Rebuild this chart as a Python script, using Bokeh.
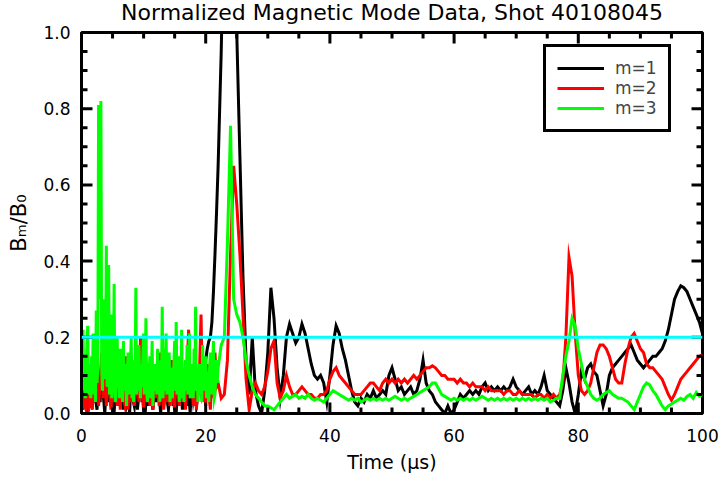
import numpy as np
from bokeh.plotting import figure
from bokeh.models import Range1d, Span, Legend, LegendItem, Label, FixedTicker, NumeralTickFormatter
from bokeh.embed import file_html
from bokeh.resources import INLINE

# Sampling grids: fine through the noisy early window, coarser afterwards
t_fine = np.arange(0.0, 22.0, 0.125)
t_early = np.arange(0.0, 22.0, 0.25)
t_late = np.arange(22.0, 100.001, 0.5)

# m=1 amplitude (normalized)
m1_early = [
    0.05, 0.01, 0.08, 0.03, 0.00, 0.06, 0.10, 0.02, 0.07, 0.04, 0.01, 0.09, 0.03, 0.12, 0.05, 0.00, 0.07, 0.03, 0.10, 0.02,
    0.06, 0.00, 0.08, 0.04, 0.11, 0.02, 0.05, 0.01, 0.09, 0.03, 0.06, 0.00, 0.10, 0.04, 0.02, 0.08, 0.01, 0.05, 0.12, 0.03,
    0.07, 0.00, 0.06, 0.02, 0.09, 0.04, 0.01, 0.08, 0.03, 0.11, 0.05, 0.00, 0.07, 0.02, 0.09, 0.04, 0.01, 0.06, 0.10, 0.02,
    0.05, 0.00, 0.08, 0.03, 0.07, 0.01, 0.05, 0.10, 0.02, 0.06, 0.00, 0.09, 0.04, 0.07, 0.02, 0.05, 0.09, 0.06, 0.11, 0.10,
    0.14, 0.17, 0.19, 0.20, 0.24, 0.32, 0.42, 0.53,
]
m1_late = [
    0.65, 0.95, 1.35, 1.60, 1.60, 1.35, 1.00, 0.68, 0.36, 0.14,
    0.05, 0.20, 0.06, 0.02, 0.00, 0.06, 0.16, 0.33, 0.25, 0.12,
    0.04, 0.10, 0.20, 0.235, 0.21, 0.185, 0.20, 0.235, 0.21, 0.17,
    0.13, 0.10, 0.09, 0.10, 0.08, 0.03, 0.10, 0.18, 0.23, 0.21,
    0.17, 0.14, 0.10, 0.06, 0.03, 0.02, 0.04, 0.03, 0.05, 0.04,
    0.06, 0.04, 0.05, 0.06, 0.05, 0.10, 0.12, 0.09, 0.06, 0.07,
    0.05, 0.06, 0.07, 0.05, 0.06, 0.09, 0.14, 0.08, 0.06, 0.05,
    0.03, 0.02, 0.01, 0.00, 0.02, 0.00, 0.01, 0.03, 0.05, 0.04,
    0.05, 0.06, 0.05, 0.06, 0.05, 0.07, 0.08, 0.06, 0.07, 0.06,
    0.07, 0.06, 0.07, 0.06, 0.07, 0.09, 0.07, 0.06, 0.05, 0.06,
    0.07, 0.05, 0.06, 0.05, 0.07, 0.10, 0.06, 0.05, 0.04, 0.03,
    0.02, 0.06, 0.12, 0.08, 0.03, 0.00, 0.05, 0.11, 0.09, 0.12,
    0.13, 0.11, 0.10, 0.06, 0.02, 0.05, 0.10, 0.12, 0.13, 0.14,
    0.15, 0.16, 0.17, 0.18, 0.16, 0.14, 0.13, 0.12, 0.13, 0.14,
    0.15, 0.15, 0.16, 0.17, 0.19, 0.22, 0.26, 0.30, 0.32, 0.335,
    0.33, 0.32, 0.30, 0.28, 0.26, 0.24, 0.21,
]

# m=2 amplitude (normalized)
m2_early = [
    0.15, 0.02, 0.03, 0.01, 0.10, 0.02, 0.04, 0.01, 0.12, 0.03, 0.18, 0.02, 0.08, 0.16, 0.04, 0.11, 0.02, 0.14, 0.06, 0.01,
    0.09, 0.03, 0.13, 0.02, 0.07, 0.01, 0.12, 0.04, 0.02, 0.15, 0.01, 0.08, 0.03, 0.11, 0.02, 0.06, 0.14, 0.03, 0.20, 0.05,
    0.01, 0.09, 0.03, 0.13, 0.02, 0.07, 0.01, 0.12, 0.04, 0.10, 0.02, 0.16, 0.05, 0.01, 0.11, 0.03, 0.08, 0.02, 0.14, 0.04,
    0.01, 0.10, 0.06, 0.02, 0.13, 0.03, 0.09, 0.01, 0.12, 0.22, 0.04, 0.10, 0.02, 0.15, 0.01, 0.06, 0.11, 0.26, 0.03, 0.08,
    0.02, 0.13, 0.05, 0.01, 0.10, 0.04, 0.16, 0.07,
]
m2_late = [
    0.08, 0.04, 0.05, 0.14, 0.42, 0.65, 0.55, 0.42, 0.26, 0.09,
    0.01, 0.06, 0.08, 0.06, 0.05, 0.07, 0.11, 0.17, 0.19, 0.08,
    0.04, 0.06, 0.10, 0.07, 0.05, 0.05, 0.06, 0.07, 0.06, 0.05,
    0.05, 0.04, 0.04, 0.05, 0.05, 0.06, 0.09, 0.11, 0.12, 0.10,
    0.09, 0.08, 0.07, 0.06, 0.05, 0.05, 0.05, 0.06, 0.07, 0.08,
    0.08, 0.07, 0.06, 0.08, 0.09, 0.08, 0.09, 0.08, 0.09, 0.08,
    0.09, 0.08, 0.09, 0.10, 0.09, 0.10, 0.11, 0.12, 0.12, 0.125,
    0.12, 0.11, 0.10, 0.10, 0.09, 0.09, 0.09, 0.08, 0.09, 0.08,
    0.08, 0.07, 0.08, 0.07, 0.07, 0.07, 0.06, 0.07, 0.06, 0.06,
    0.06, 0.06, 0.05, 0.06, 0.06, 0.05, 0.05, 0.06, 0.05, 0.05,
    0.05, 0.05, 0.04, 0.05, 0.05, 0.04, 0.05, 0.04, 0.05, 0.04,
    0.05, 0.08, 0.20, 0.41, 0.36, 0.21, 0.10, 0.06, 0.05, 0.06,
    0.08, 0.12, 0.16, 0.18, 0.18, 0.17, 0.15, 0.12, 0.09, 0.08,
    0.08, 0.13, 0.17, 0.20, 0.21, 0.19, 0.17, 0.16, 0.13, 0.12,
    0.12, 0.11, 0.10, 0.09, 0.07, 0.05, 0.035, 0.05, 0.07, 0.09,
    0.10, 0.11, 0.12, 0.13, 0.14, 0.15, 0.155,
]

# m=3 amplitude (normalized), sampled on the fine grid before 22 us
m3_early = [
    0.08, 0.14, 0.22, 0.06, 0.10, 0.04, 0.12, 0.18,
    0.23, 0.05, 0.09, 0.13, 0.04, 0.15, 0.07, 0.21,
    0.05, 0.11, 0.03, 0.27, 0.08, 0.12, 0.81, 0.55,
    0.30, 0.82, 0.12, 0.06, 0.18, 0.30, 0.09, 0.14,
    0.44, 0.07, 0.13, 0.39, 0.05, 0.11, 0.26, 0.04,
    0.12, 0.08, 0.34, 0.06, 0.03, 0.14, 0.20, 0.07,
    0.10, 0.04, 0.17, 0.08, 0.12, 0.03, 0.19, 0.06,
    0.09, 0.13, 0.02, 0.11, 0.16, 0.05, 0.08, 0.12,
    0.20, 0.04, 0.10, 0.03, 0.14, 0.07, 0.33, 0.05,
    0.11, 0.06, 0.18, 0.09, 0.04, 0.13, 0.07, 0.15,
    0.21, 0.05, 0.10, 0.25, 0.06, 0.03, 0.12, 0.08,
    0.15, 0.04, 0.09, 0.19, 0.02, 0.11, 0.06, 0.13,
    0.10, 0.05, 0.17, 0.08, 0.12, 0.03, 0.14, 0.07,
    0.28, 0.04, 0.11, 0.06, 0.14, 0.21, 0.05, 0.09,
    0.06, 0.16, 0.03, 0.10, 0.12, 0.04, 0.08, 0.13,
    0.19, 0.06, 0.24, 0.05, 0.11, 0.15, 0.03, 0.09,
    0.07, 0.22, 0.04, 0.12, 0.03, 0.10, 0.14, 0.06,
    0.18, 0.05, 0.09, 0.21, 0.04, 0.11, 0.07, 0.13,
    0.04, 0.17, 0.08, 0.28, 0.06, 0.12, 0.03, 0.10,
    0.13, 0.05, 0.09, 0.03, 0.18, 0.07, 0.11, 0.06,
    0.15, 0.04, 0.11, 0.08, 0.03, 0.12, 0.16, 0.05,
    0.09, 0.13, 0.19, 0.04, 0.05, 0.10, 0.14, 0.08,
]
m3_late = [
    0.12, 0.18, 0.20, 0.45, 0.755, 0.30, 0.26, 0.24, 0.20, 0.14,
    0.10, 0.07, 0.05, 0.04, 0.03, 0.02, 0.02, 0.015, 0.01, 0.02,
    0.03, 0.04, 0.05, 0.04, 0.045, 0.05, 0.04, 0.045, 0.04, 0.05,
    0.04, 0.035, 0.04, 0.035, 0.03, 0.04, 0.05, 0.06, 0.055, 0.05,
    0.045, 0.04, 0.035, 0.04, 0.035, 0.04, 0.03, 0.035, 0.04, 0.035,
    0.04, 0.035, 0.04, 0.035, 0.04, 0.035, 0.04, 0.045, 0.04, 0.035,
    0.04, 0.035, 0.04, 0.045, 0.05, 0.055, 0.06, 0.065, 0.07, 0.08,
    0.08, 0.065, 0.05, 0.045, 0.04, 0.035, 0.04, 0.035, 0.04, 0.035,
    0.04, 0.035, 0.04, 0.035, 0.04, 0.045, 0.04, 0.035, 0.04, 0.035,
    0.04, 0.035, 0.04, 0.035, 0.04, 0.035, 0.04, 0.035, 0.04, 0.035,
    0.04, 0.035, 0.04, 0.035, 0.04, 0.035, 0.04, 0.03, 0.035, 0.04,
    0.04, 0.10, 0.15, 0.19, 0.25, 0.23, 0.17, 0.13, 0.09, 0.07,
    0.05, 0.04, 0.035, 0.04, 0.05, 0.055, 0.06, 0.05, 0.045, 0.04,
    0.04, 0.035, 0.03, 0.02, 0.01, 0.03, 0.05, 0.07, 0.08, 0.075,
    0.06, 0.05, 0.035, 0.02, 0.01, 0.02, 0.025, 0.03, 0.035, 0.04,
    0.035, 0.045, 0.05, 0.04, 0.055, 0.045, 0.05,
]

threshold = 0.2
series_labels = ["m=1", "m=2", "m=3"]
series_colors = ["black", "#ff0000", "#00ff00"]
x_major = [0, 20, 40, 60, 80, 100]
y_major = [0.0, 0.2, 0.4, 0.6, 0.8, 1.0]
x_minor = [v for v in range(0, 101, 5) if v % 20 != 0]
y_minor = [round(0.05 * k, 2) for k in range(21) if k % 4 != 0]

series = [
    (np.concatenate([t_early, t_late]), np.array(m1_early + m1_late)),
    (np.concatenate([t_early, t_late]), np.array(m2_early + m2_late)),
    (np.concatenate([t_fine, t_late]), np.array(m3_early + m3_late)),
]

FONT = "DejaVu Sans"
X0, X1, Y0, Y1 = 0.0, 100.0, 0.0, 1.0
BORDER_L, BORDER_R, BORDER_T, BORDER_B = 81, 22, 32, 64
W, H = 724, 477
FRAME_W = W - BORDER_L - BORDER_R
FRAME_H = H - BORDER_T - BORDER_B

p = figure(width=W, height=H, output_backend="svg", toolbar_location=None,
           x_range=Range1d(X0, X1), y_range=Range1d(Y0, Y1),
           min_border_left=BORDER_L, min_border_right=BORDER_R,
           min_border_top=BORDER_T, min_border_bottom=BORDER_B,
           background_fill_color="white", border_fill_color="white")

p.xgrid.visible = False
p.ygrid.visible = False
p.outline_line_color = "black"
p.outline_line_width = 3
p.outline_line_alpha = 1.0

for ax, ticks in ((p.xaxis[0], x_major), (p.yaxis[0], y_major)):
    ax.ticker = FixedTicker(ticks=ticks)
    ax.axis_line_color = "black"
    ax.axis_line_width = 3
    ax.major_tick_in = 0
    ax.major_tick_out = 0
    ax.minor_tick_in = 0
    ax.minor_tick_out = 0
    ax.major_label_text_font = FONT
    ax.major_label_text_font_size = "17px"
    ax.major_label_text_color = "black"
    ax.axis_label_text_font = FONT
    ax.axis_label_text_font_style = "normal"
    ax.axis_label_text_color = "black"

xa = p.xaxis[0]
xa.axis_label = "Time (\u03bcs)"
xa.axis_label_text_font_size = "19px"
xa.major_label_standoff = 15
xa.axis_label_standoff = 6

ya = p.yaxis[0]
ya.formatter = NumeralTickFormatter(format="0.0")
ya.axis_label = "B\u2098/B\u2080"
ya.axis_label_text_font_size = "21px"
ya.major_label_standoff = 11
ya.axis_label_standoff = 9

renderers = []
for (tt, vals), color in zip(series, series_colors):
    r = p.line(tt, vals, line_color=color, line_width=3, line_join="miter")
    renderers.append(r)

p.add_layout(Span(location=threshold, dimension="width", line_color="#00ffff", line_width=3))

# inward tick marks on all four sides of the box (lengths given in pixels)
dx_major, dx_minor = 11 * (X1 - X0) / FRAME_W, 6 * (X1 - X0) / FRAME_W
dy_major, dy_minor = 11 * (Y1 - Y0) / FRAME_H, 6 * (Y1 - Y0) / FRAME_H
seg_x0, seg_y0, seg_x1, seg_y1 = [], [], [], []
for xs, dy in ((x_major, dy_major), (x_minor, dy_minor)):
    for xv in xs:
        seg_x0 += [xv, xv]
        seg_x1 += [xv, xv]
        seg_y0 += [Y0, Y1]
        seg_y1 += [Y0 + dy, Y1 - dy]
for ys, dx in ((y_major, dx_major), (y_minor, dx_minor)):
    for yv in ys:
        seg_x0 += [X0, X1]
        seg_x1 += [X0 + dx, X1 - dx]
        seg_y0 += [yv, yv]
        seg_y1 += [yv, yv]
p.segment(x0=seg_x0, y0=seg_y0, x1=seg_x1, y1=seg_y1, line_color="black", line_width=3)

# plot title, placed in the strip above the frame
p.add_layout(Label(x=50, y=20, x_units="data", y_units="screen",
                   text="Normalized Magnetic Mode Data, Shot 40108045",
                   text_align="center", text_baseline="alphabetic",
                   text_font=FONT, text_font_size="22px", text_color="black"), "above")

legend = Legend(
    items=[LegendItem(label=lab, renderers=[r]) for lab, r in zip(series_labels, renderers)],
    location=(462, 281),
    padding=11, spacing=0, margin=0,
    glyph_width=47, glyph_height=20, label_height=20, label_standoff=11,
    label_text_font=FONT, label_text_font_size="17px",
    border_line_color="black", border_line_width=3, border_line_alpha=1.0,
    background_fill_alpha=1.0,
)
p.add_layout(legend, "center")

open("out.html", "w").write(file_html(p, INLINE))
